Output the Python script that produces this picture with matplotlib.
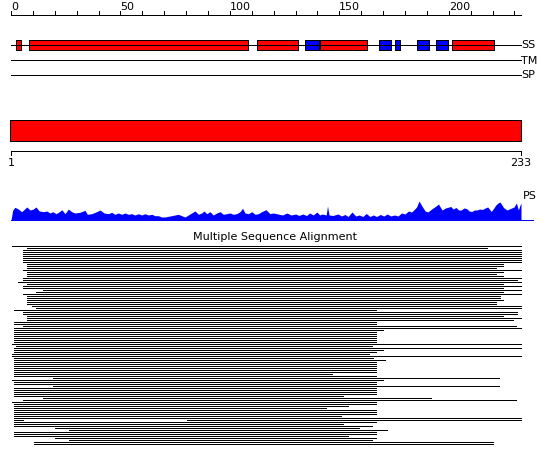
import matplotlib
matplotlib.use("Agg")
import matplotlib.pyplot as plt
from matplotlib.patches import Rectangle

# ---------------- data ----------------
seq_len = 233
ruler_ticks = list(range(0, 231, 10))
ruler_labels = [0, 50, 100, 150, 200]
track_names = ["SS", "TM", "SP"]

# secondary structure elements (residue start, end, type)
ss_start = [2.3, 8.4, 112.5, 134.3, 141.3, 168.2, 175.4, 185.6, 194.3, 201.5]
ss_end = [4.4, 108.4, 131.2, 140.7, 162.5, 173.6, 177.6, 190.8, 199.5, 220.5]
ss_type = ["H", "H", "H", "E", "H", "E", "E", "E", "E", "H"]

domain_start = [0.0]
domain_end = [233.0]
domain_labels = ["1", "233"]

# PS profile (residue position, score)
ps_pos = [0, 0.8, 1.8, 3.3, 4.9, 7.2, 8.7, 10.2, 11.4, 12.9, 14.8, 16.3, 17.8, 19.0,
          20.6, 22.1, 23.2, 24.7, 26.2, 27.7, 29.2, 31.5, 33.8, 34.9, 36.9, 39.1,
          40.7, 42.5, 44.5, 46.0, 47.5, 49.0, 50.6, 52.1, 53.6, 55.1, 56.6, 58.2,
          59.7, 61.2, 62.7, 64.3, 65.8, 67.3, 68.8, 70.4, 71.9, 73.4, 74.9, 76.4,
          78.0, 79.5, 81.0, 82.5, 84.1, 85.6, 87.1, 88.2, 89.4, 90.9, 92.4, 94.0,
          95.5, 97.0, 98.5, 100.0, 101.6, 103.1, 104.6, 105.8, 106.9, 108.4, 110.0,
          111.5, 113.0, 114.5, 116.5, 118.3, 119.8, 122, 124, 126, 128, 130.1, 131.5,
          133.3, 135, 136.5, 138, 139.8, 141, 142.2, 144, 144.6, 145.3, 147, 149.4,
          151, 152.6, 154, 155.8, 157.5, 159.1, 160.7, 162.3, 164, 165.5, 167, 168.7,
          170.3, 171.9, 173.5, 175.2, 176.8, 178.4, 180, 181.6, 183, 184, 185.3,
          186.4, 188, 189.2, 190.4, 191.6, 192.8, 194.2, 195.3, 196.9, 198.5, 200.9,
          202, 203.3, 204.5, 205.7, 206.9, 208.1, 209.3, 210.5, 211.7, 212.9, 214.1,
          215.4, 216.6, 217.8, 219.4, 220.6, 221.5, 222.5, 223.4, 225, 226.6, 228.2,
          229.8, 230.9, 231.8, 232.4, 233, 233]
ps_score = [0, 10, 12.7, 11, 8.3, 13, 10, 11, 13, 9, 8.3, 9, 7, 8.3,
            6.3, 8.3, 10.3, 6.3, 11, 8.3, 7, 7.7, 9.7, 5.7, 6.3, 8.3,
            10, 7, 6.3, 7.7, 5.7, 7, 5.7, 7, 5.7, 6.3, 5, 6.3,
            5, 6.3, 5, 5.7, 4.3, 4.3, 3, 3, 3.7, 4.3, 5, 5.7,
            4.3, 3, 5, 7, 9, 5.7, 7, 9, 6.3, 8.3, 5, 7,
            8.3, 5.7, 6.3, 7, 5.7, 6.3, 8.3, 11.7, 7, 6.3, 8.3,
            5.7, 6.3, 8.3, 10.3, 6.3, 7, 6, 5, 7, 5, 6, 4.5,
            6, 4.5, 7, 5, 8, 5, 6, 5, 14, 5, 4.5, 6,
            4, 5.5, 3.5, 8, 4, 5, 3.5, 6.5, 3.5, 5, 3.5, 5.5,
            4, 6, 4, 5, 4, 7, 6, 9, 8, 10, 13,
            19, 13, 9, 8, 10, 12, 14, 16, 10, 12, 13.5,
            11, 12.5, 10, 10, 12, 11.5, 9, 8.5, 10, 10, 11,
            10.5, 12, 13, 8.5, 12, 15, 17, 18, 12.5, 10, 11.5,
            13, 17, 10, 14, 17, 0]

# multiple sequence alignment rows (residue start, end)
msa_start = [0.6, 7.5, 5.6, 5.6, 5.6, 5.6, 5.6, 5.6, 5.6, 7.5,
             7.5, 7.5, 5.6, 7.5, 7.5, 7.5, 5.6, 5.6, 3.3, 7.5,
             5.6, 5.6, 14.5, 11.4, 5.6, 7.5, 7.5, 7.5, 7.5, 7.5,
             9.4, 11.4, 1.5, 5.6, 5.6, 7.5, 7.5, 7.5, 1.5, 1.5,
             5.6, 1.5, 1.5, 1.5, 1.5, 1.5, 1.5, 1.5, 1.5, 0.6,
             2.3, 1.5, 1.5, 1.5, 0.6, 0.6, 1.5, 1.5, 1.5, 1.5,
             1.5, 1.5, 1.5, 1.5, 1.5, 1.5, 19.3, 0.6, 1.5, 1.5,
             19.3, 1.5, 1.5, 1.5, 1.5, 1.5, 14.5, 5.6, 0.6, 1.5,
             1.5, 1.5, 1.5, 1.5, 1.5, 1.5, 1.5, 1.5, 1.5, 1.5,
             1.5, 20.1, 26.5, 1.5, 1.5, 1.5, 20.1, 26.5, 10.5, 10.5]
msa_end = [233, 217.6, 233, 233, 233, 233, 233, 233, 233, 224.6,
           224.6, 221.4, 233, 224.6, 221.4, 224.6, 233, 231.3, 233, 224.6,
           233, 224.6, 233, 224.6, 233, 223.3, 223.3, 224.6, 221.4, 221.4,
           233, 233, 166.6, 231.3, 231.3, 224.6, 233, 229.5, 166.6, 166.6,
           230.6, 233, 169.8, 166.6, 166.6, 166.6, 166.6, 166.6, 166.6, 233,
           164.8, 233, 169.8, 166.6, 163.4, 233, 165.5, 170.7, 166.6, 166.6,
           166.6, 166.6, 166.6, 166.6, 146.5, 166.6, 222.8, 169.8, 166.6, 166.6,
           222.8, 166.6, 166.6, 166.6, 166.6, 151.5, 191.7, 230.6, 166.6, 166.6,
           153.8, 143.8, 166.6, 166.6, 166.6, 150.6, 233, 233, 166.6, 151.5,
           164.8, 158.8, 171.6, 166.6, 166.6, 153.8, 166.6, 164.8, 220.4, 220.4]
# rows with an internal gap: row index -> (gap start, gap end)
msa_gaps = {87: (5.6, 80.6)}

# ---------------- drawing ----------------
W, H = 550, 465
fig = plt.figure(figsize=(W / 100, H / 100), dpi=100)
ax = fig.add_axes([0, 0, 1, 1])
x0_px, x1_px = 11.0, 521.0
scale = seq_len / (x1_px - x0_px)


def px2r(x):
    return (x - x0_px) * scale


ax.set_xlim(px2r(0), px2r(W))
ax.set_ylim(H, 0)
ax.axis("off")
LW = 0.72
FS = 8.0
font = dict(family="DejaVu Sans", fontsize=FS, color="black")

# top ruler
ruler_y = 15.5
ax.plot([0, seq_len], [ruler_y, ruler_y], color="black", lw=LW, antialiased=False)
for t in ruler_ticks:
    ax.plot([t, t], [ruler_y, 11.0], color="black", lw=LW, antialiased=False)
for t in ruler_labels:
    ax.text(t, 9.5, str(t), ha="left", va="baseline", **font)

# tracks
track_y = [45.5, 60.5, 75.5]
for name, y in zip(track_names, track_y):
    ax.plot([0, seq_len], [y, y], color="black", lw=LW, antialiased=False)
    ax.text(px2r(521), y, name, ha="left", va="center", **font)

for s, e, t in zip(ss_start, ss_end, ss_type):
    col = "#ff0000" if t == "H" else "#0000ff"
    ax.add_patch(Rectangle((s, 40.5), e - s, 10, facecolor=col, edgecolor="black",
                           lw=LW, antialiased=False))

# domain bar
for s, e in zip(domain_start, domain_end):
    ax.add_patch(Rectangle((s - 0.4, 119.5), e - s + 0.4, 21, facecolor="#ff0000",
                           edgecolor="black", lw=LW, antialiased=False))

# bottom ruler
by = 151.5
ax.plot([0, seq_len], [by, by], color="black", lw=LW, antialiased=False)
for t in (0, seq_len):
    ax.plot([t, t], [by, 155.5], color="black", lw=LW, antialiased=False)
ax.text(0, 158, domain_labels[0], ha="center", va="top", **font)
ax.text(seq_len, 158, domain_labels[1], ha="center", va="top", **font)

# PS profile
base = 220.0
ax.fill_between(ps_pos, [base - v for v in ps_score], base, color="#0000ff", lw=0)
ax.plot([0, px2r(533)], [base - 0.5, base - 0.5], color="#0000ff", lw=LW)
ax.text(px2r(523), 196, "PS", ha="left", va="center", **font)

# MSA
ax.text(px2r(275), 240, "Multiple Sequence Alignment", ha="center", va="baseline", **font)
for k, (s, e) in enumerate(zip(msa_start, msa_end)):
    y = 245.5 + 2 * k
    if k in msa_gaps:
        g0, g1 = msa_gaps[k]
        segs = [(s, g0), (g1, e)]
    else:
        segs = [(s, e)]
    for a, b in segs:
        ax.plot([a, b], [y, y], color="black", lw=LW, antialiased=False,
                solid_capstyle="butt")

fig.savefig("out.png", dpi=100)
